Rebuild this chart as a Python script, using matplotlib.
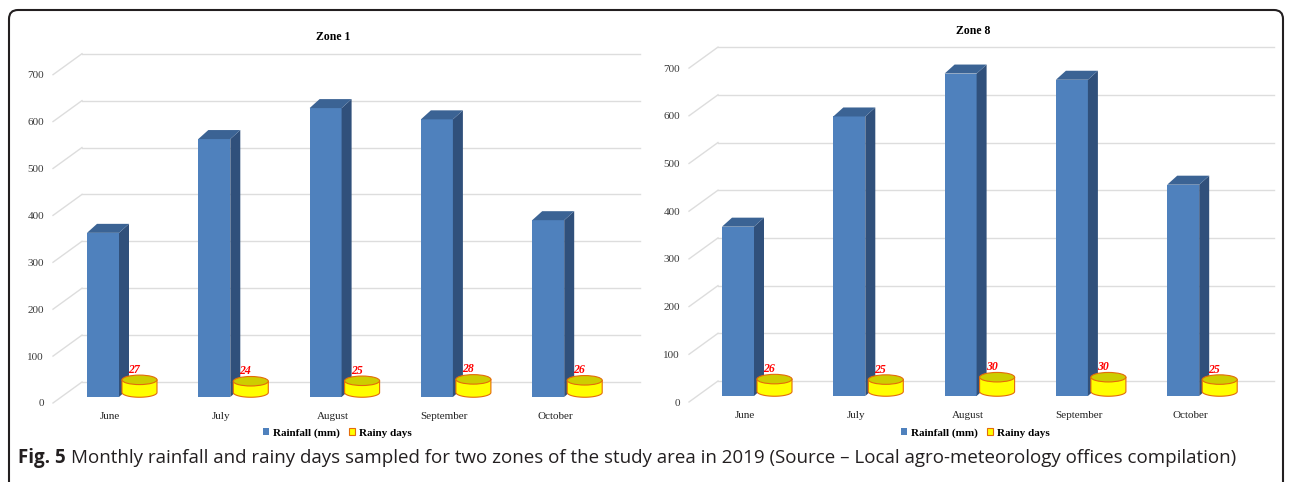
import matplotlib
matplotlib.use("Agg")
import matplotlib.pyplot as plt
from matplotlib.patches import Polygon, Ellipse, FancyBboxPatch
from matplotlib.transforms import ScaledTranslation
import numpy as np

# data
months = ["June", "July", "August", "September", "October"]
zone1_rain = [350, 550, 616, 592, 377]
zone1_days = [27, 24, 25, 28, 26]
zone8_rain = [355, 586, 676, 663, 443]
zone8_days = [26, 25, 30, 30, 25]

W, H = 1292, 482
SERIF = ["Liberation Serif", "DejaVu Serif"]
BLUE = "#4F81BD"; BLUE_SIDE = "#30507B"; BLUE_TOP = "#3B6394"
YEL = "#FFFF00"; YEL_TOP = "#CDCD00"; ORANGE = "#E46C0A"
GRID = "#DDDDDD"; STEP = 111.3

plt.rcParams["font.family"] = SERIF
fig = plt.figure(figsize=(W / 100, H / 100), dpi=100)
bg = fig.add_axes([0, 0, 1, 1], zorder=-5)
bg.set_xlim(0, W); bg.set_ylim(H, 0); bg.axis("off")
bg.add_patch(FancyBboxPatch((9, 10), W - 18, 520, boxstyle="round,pad=0,rounding_size=9",
                            fc="white", ec="#231F20", lw=1.5))


def zone(rain, days, title, lab0, left, right, zero, scale, title_xy, leg_x):
    # lab0: pixel x of the first month label, zero: pixel y of 0 at the bar plane, scale: px per 100
    ax = fig.add_axes([left / W, (H - zero) / H, (right - left) / W, 7 * scale / H])
    ax.set_xlim((left - lab0) / STEP, (right - lab0) / STEP)
    ax.set_ylim(0, 700)
    ax.set_facecolor("none")
    for s in ax.spines.values(): s.set_visible(False)
    kx, ky = STEP, scale / 100.0
    px = lambda p: p / kx
    py = lambda p: p / ky
    x0, x1 = ax.get_xlim()
    # back wall gridlines + left wall diagonals
    for v in range(0, 701, 100):
        ax.plot([x0 + px(21), x1 + px(21)], [v + py(15)] * 2, color=GRID, lw=1.0, zorder=0, clip_on=False)
        ax.plot([x0 - px(8), x0 + px(21)], [v - py(6), v + py(15)], color=GRID, lw=1.0, zorder=0, clip_on=False)
    xs = np.arange(len(months))
    bc = xs - px(7); bw = px(32); dx, dy = px(10), py(9)
    bars = ax.bar(bc, rain, width=bw, color=BLUE, zorder=2, label="Rainfall (mm)")
    for c, v in zip(bc, rain):
        l, r = c - bw / 2, c + bw / 2
        ax.add_patch(Polygon([(r, 0), (r + dx, dy), (r + dx, v + dy), (r, v)], closed=True,
                             fc=BLUE_SIDE, ec="none", zorder=2, clip_on=False))
        ax.add_patch(Polygon([(l, v), (r, v), (r + dx, v + dy), (l + dx, v + dy)], closed=True,
                             fc=BLUE_TOP, ec="none", zorder=2, clip_on=False))
    # cylinders for rainy days
    cc = xs + px(29.5); cw = px(35); eh = py(9.5); yb = py(4.5)
    t = np.linspace(np.pi, 2 * np.pi, 40)
    body = None
    for c, d in zip(cc, days):
        pts = [(c - cw / 2, yb + d)] + list(zip(c + cw / 2 * np.cos(t), yb + eh / 2 * np.sin(t))) + [(c + cw / 2, yb + d)]
        p = Polygon(pts, closed=True, fc=YEL, ec=ORANGE, lw=0.8, zorder=3, clip_on=False,
                    label="Rainy days" if body is None else None)
        ax.add_patch(p)
        body = body or p
        ax.add_patch(Ellipse((c, yb + d), cw, eh, fc=YEL_TOP, ec=ORANGE, lw=0.8, zorder=4, clip_on=False))
        ax.annotate(str(d), (c, yb + d), xytext=(-4, 2.8), textcoords="offset points", ha="center",
                    va="bottom", color="#FF0000", fontsize=8.5, fontweight="bold", fontstyle="italic", zorder=5)
    ax.set_yticks(range(0, 701, 100))
    ax.tick_params(axis="y", length=0, pad=17 * 0.72, labelsize=8, labelcolor="#3A3A3A")
    for lab in ax.get_yticklabels():
        lab.set_transform(lab.get_transform() + ScaledTranslation(0, -6 / 100, fig.dpi_scale_trans))
    ax.set_xticks(xs, months)
    ax.tick_params(axis="x", length=0, pad=11, labelsize=8, labelcolor="#222222")
    bg.text(title_xy[0], title_xy[1], title, ha="center", va="center", fontsize=8.5, fontweight="bold")
    fig.legend(handles=[bars, body], labels=["Rainfall (mm)", "Rainy days"], loc="center",
               bbox_to_anchor=(leg_x / W, 1 - 433 / H), ncol=2, frameon=False, handlelength=0.6,
               handleheight=0.6, handletextpad=0.3, columnspacing=0.8,
               prop={"family": SERIF, "weight": "bold", "size": 8})


zone(zone1_rain, zone1_days, "Zone 1", 110, 61, 619, 397, 46.9, (333, 37), 337)
zone(zone8_rain, zone8_days, "Zone 8", 745, 697, 1253, 396, 47.7, (973, 31), 975)

# caption, sized to span the same width as the reference
SANS = ["Liberation Sans Narrow", "Open Sans", "DejaVu Sans"]
rest_s = "Monthly rainfall and rainy days sampled for two zones of the study area in 2019 (Source \u2013 Local agro-meteorology offices compilation)"
fs = 12.0
r = fig.canvas.get_renderer()
for _ in range(3):
    t1 = bg.text(18, 458, "Fig. 5", family=SANS, fontweight="bold", fontsize=fs, va="center", color="#231F20")
    e1 = t1.get_window_extent(r)
    t2 = fig.text(e1.x1 / W + 5 / W, 1 - 458 / H, rest_s, family=SANS, fontsize=fs, va="center", color="#231F20")
    e2 = t2.get_window_extent(r)
    tot = e2.x1 - e1.x0
    if abs(tot - 1217) < 3:
        break
    t1.remove(); t2.remove()
    fs *= 1217 / tot

fig.savefig("out.png", dpi=100)
